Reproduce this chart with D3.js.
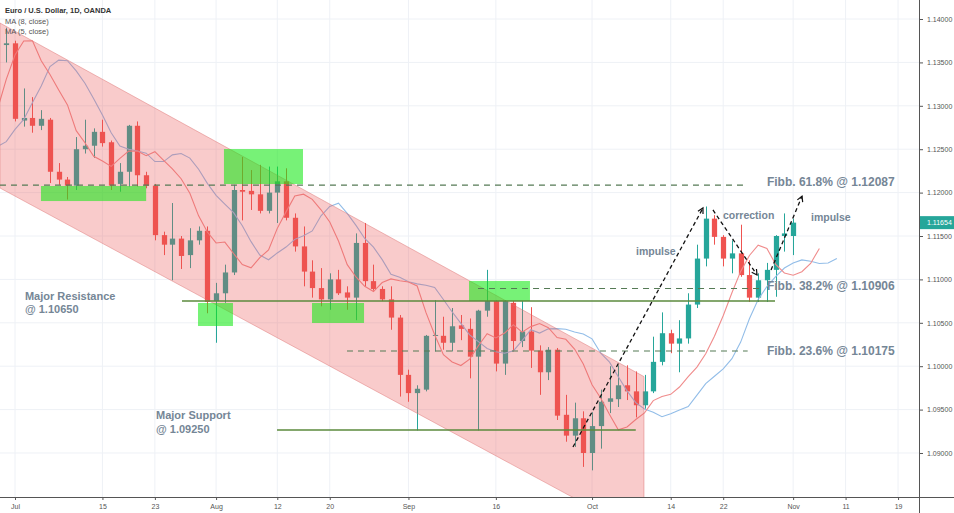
<!DOCTYPE html>
<html><head><meta charset="utf-8">
<script src="https://cdn.jsdelivr.net/npm/d3@7"></script>
<style>body{margin:0;background:#fff;}svg{display:block;}</style>
</head><body>
<svg id="c" width="954" height="513"></svg>
<script>
// ---------------- DATA ----------------
const firstIndex = -1; // bar index of first candle (Jun 28); Jul 1 = 0
const open = [1.1370,1.1372,1.1283,1.1286,1.1277,1.1284,1.1224,1.1215,1.1208,1.1250,
1.1254,1.1270,1.1258,1.1210,1.1224,1.1277,1.1220,1.1208,1.1151,1.1140,
1.1147,1.1128,1.1145,1.1156,1.1075,1.1084,1.1108,1.1203,1.1202,1.1198,
1.1179,1.1200,1.1213,1.1171,1.1138,1.1109,1.1090,1.1077,1.1100,1.1085,
1.1079,1.1142,1.1098,1.1089,1.1077,1.1056,1.0990,1.0969,1.0973,1.1035,
1.1035,1.1027,1.1047,1.1043,1.1011,1.1064,1.1075,1.1003,1.1073,1.1029,
1.1040,1.1018,1.0993,1.1019,1.0944,1.0920,1.0940,1.0900,1.0931,1.0959,
1.0962,1.0978,1.0971,1.0955,1.0971,1.1005,1.1038,1.1026,1.1032,1.1071,
1.1124,1.1170,1.1149,1.1124,1.1130,1.1105,1.1079,1.1099,1.1111,1.1150,1.1150];
const high = [1.1390,1.1375,1.1320,1.1310,1.1295,1.1286,1.1234,1.1218,1.1264,1.1284,
1.1274,1.1284,1.1260,1.1234,1.1278,1.1282,1.1224,1.1210,1.1155,1.1188,
1.1150,1.1159,1.1161,1.1161,1.1096,1.1117,1.1209,1.1241,1.1226,1.1232,
1.1230,1.1230,1.1228,1.1176,1.1161,1.1122,1.1113,1.1107,1.1111,1.1092,
1.1153,1.1165,1.1117,1.1092,1.1092,1.1059,1.0996,1.0978,1.1036,1.1076,
1.1057,1.1067,1.1059,1.1055,1.1065,1.1111,1.1076,1.1076,1.1075,1.1075,
1.1068,1.1024,1.1022,1.1021,1.0967,1.0958,1.0948,1.0947,1.0973,1.1000,
1.1001,1.1001,1.0994,1.0990,1.1034,1.1062,1.1042,1.1053,1.1084,1.1140,
1.1184,1.1174,1.1151,1.1145,1.1163,1.1122,1.1107,1.1119,1.1151,1.1176,1.1170];
const low = [1.1350,1.1282,1.1276,1.1269,1.1272,1.1211,1.1209,1.1192,1.1203,1.1245,
1.1240,1.1253,1.1203,1.1201,1.1207,1.1207,1.1205,1.1145,1.1128,1.1099,
1.1112,1.1113,1.1140,1.1061,1.1027,1.1073,1.1105,1.1168,1.1180,1.1176,
1.1176,1.1165,1.1168,1.1132,1.1092,1.1079,1.1069,1.1065,1.1082,1.1065,
1.1053,1.1092,1.1087,1.1075,1.1042,1.0965,1.0959,1.0926,1.0971,1.1017,
1.1019,1.1017,1.1030,1.0986,1.0926,1.1057,1.0994,1.0990,1.1017,1.1022,
1.0998,1.0967,1.0984,1.0938,1.0913,1.0907,1.0884,1.0880,1.0905,1.0946,
1.0953,1.0961,1.0941,1.0951,1.0969,1.1001,1.1015,1.0993,1.1026,1.1067,
1.1115,1.1140,1.1115,1.1107,1.1103,1.1074,1.1074,1.1074,1.1080,1.1132,1.1128];
const close = [1.1372,1.1285,1.1286,1.1277,1.1285,1.1224,1.1215,1.1208,1.1250,1.1254,
1.1270,1.1257,1.1208,1.1224,1.1277,1.1220,1.1208,1.1151,1.1140,1.1147,
1.1127,1.1145,1.1156,1.1074,1.1084,1.1108,1.1203,1.1201,1.1198,1.1179,
1.1200,1.1213,1.1171,1.1138,1.1109,1.1090,1.1077,1.1100,1.1084,1.1079,
1.1142,1.1098,1.1089,1.1077,1.1056,1.0990,1.0969,1.0974,1.1035,1.1036,
1.1027,1.1046,1.1043,1.1011,1.1064,1.1075,1.1003,1.1075,1.1029,1.1040,
1.1018,1.0993,1.1019,1.0943,1.0920,1.0940,1.0900,1.0931,1.0959,1.0963,
1.0978,1.0971,1.0955,1.0971,1.1005,1.1038,1.1026,1.1032,1.1071,1.1124,
1.1170,1.1149,1.1124,1.1130,1.1105,1.1079,1.1099,1.1111,1.1150,1.1153,1.11654];
// closes of the bars before the visible window (only feed the moving averages)
const priorCloses = [1.1327,1.1287,1.1274,1.1209,1.1219,1.1194,1.1225,1.1291,1.1371,1.1399,1.1366,1.1366,1.1371];

const tickIndex = [0,10,16,23,30,36,45,55,66,75,81,89,95,101];
const tickLabel = ["Jul","15","23","Aug","12","20","Sep","16","Oct","14","22","Nov","11","19"];
const priceTicks = [1.09,1.095,1.10,1.105,1.11,1.115,1.12,1.125,1.13,1.135,1.14];
const lastPrice = 1.11654;
const maSlow = {len:8, shift:5};
const maFast = {len:5, shift:3};

// ---------------- ANNOTATIONS (bar index, price) ----------------
const channelUpper = [[-1.72,1.13954],[71.94,1.09880]];
const channelLower = [[-1.72,1.12053],[71.94,1.08046]];
const greenBoxes = [
  [2.97,15.0,1.12076,1.11903],
  [23.9,32.94,1.12502,1.12099],
  [20.93,24.93,1.10728,1.10463],
  [33.97,39.92,1.10728,1.10498],
  [51.93,58.9,1.10982,1.10751]
];
const solidLevels = [[1.10751,19.1,86.93],[1.09265,29.97,71.0]];
const dashedLevels = [[1.12087,-1.72,83.8],[1.10895,52.96,85.2],[1.10175,37.97,83.8]];
const arrows = [
  [[63.82,1.09069],[78.69,1.11823]],
  [[79.83,1.11800],[84.87,1.11051]],
  [[86.47,1.11108],[90.02,1.11959]]
];
const notes = [
  ["Fibb. 61.8% @ 1.12087",86.0,1.12076,12],
  ["Fibb. 38.2% @ 1.10906",86.0,1.10878,12],
  ["Fibb. 23.6% @ 1.10175",86.0,1.10129,12],
  ["impulse",71.03,1.11281,10.5],
  ["correction",80.98,1.11696,10.5],
  ["impulse",91.04,1.11673,10.5],
  ["Major Resistance",1.14,1.10763,11],
  ["@ 1.10613",1.14,1.10613,11],
  ["Major Support",16.13,1.09386,11],
  ["@ 1.09236",16.13,1.09236,11]
];
notes[7][0] = "@ 1.10650";
notes[9][0] = "@ 1.09250";

// ---------------- DRAW ----------------
const W=954, H=513, plotR=919, plotB=497;
const svg = d3.select("#c");
const x = d3.scaleLinear().domain([-1.7157,103.396]).range([0,plotR]);
const y = d3.scaleLinear().domain([1.08493,1.14219]).range([plotB,0]);
const UP="#26a69a", DOWN="#ef5350";

svg.append("defs").append("clipPath").attr("id","plot")
  .append("rect").attr("x",0).attr("y",0).attr("width",plotR).attr("height",plotB);

// grid
const grid = svg.append("g");
grid.selectAll(".gv").data(tickIndex).join("line")
  .attr("x1",d=>x(d)).attr("x2",d=>x(d)).attr("y1",0).attr("y2",plotB)
  .attr("stroke","#eef1f6").attr("stroke-width",1);
grid.selectAll(".gh").data(priceTicks).join("line")
  .attr("x1",0).attr("x2",plotR).attr("y1",d=>y(d)).attr("y2",d=>y(d))
  .attr("stroke","#eef1f6").attr("stroke-width",1);

const plot = svg.append("g").attr("clip-path","url(#plot)");

// candles
const bars = open.map((o,k)=>({i:firstIndex+k,o,h:high[k],l:low[k],c:close[k]}));
const bw = (x(1)-x(0))*0.6;
const cg = plot.append("g");
cg.selectAll("line").data(bars).join("line")
  .attr("x1",d=>Math.round(x(d.i))+0.5).attr("x2",d=>Math.round(x(d.i))+0.5)
  .attr("y1",d=>y(d.h)).attr("y2",d=>y(d.l))
  .attr("stroke",d=>d.c>=d.o?UP:DOWN).attr("stroke-width",1);
cg.selectAll("rect").data(bars).join("rect")
  .attr("x",d=>Math.round(x(d.i))+0.5-bw/2).attr("width",bw)
  .attr("y",d=>y(Math.max(d.o,d.c)))
  .attr("height",d=>Math.max(1,y(Math.min(d.o,d.c))-y(Math.max(d.o,d.c))))
  .attr("fill",d=>d.c>=d.o?UP:DOWN);

// moving averages (displaced)
const allCloses = priorCloses.concat(close);
const base = firstIndex - priorCloses.length;
function ma(cfg){
  const pts=[];
  for(let k=cfg.len-1;k<allCloses.length;k++){
    const v=d3.mean(allCloses.slice(k-cfg.len+1,k+1));
    pts.push([base+k+cfg.shift,v]);
  }
  return pts;
}
const line = d3.line().x(d=>x(d[0])).y(d=>y(d[1]));
plot.append("path").attr("d",line(ma(maSlow))).attr("fill","none")
  .attr("stroke","#92bde8").attr("stroke-width",1.1);
plot.append("path").attr("d",line(ma(maFast))).attr("fill","none")
  .attr("stroke","#f08c8c").attr("stroke-width",1.1);

// channel
const chan = [channelUpper[0],channelUpper[1],channelLower[1],channelLower[0]];
plot.append("path").attr("d","M"+chan.map(p=>x(p[0])+","+y(p[1])).join("L")+"Z")
  .attr("fill","rgba(236,82,82,0.30)").attr("stroke","rgba(220,110,110,0.45)").attr("stroke-width",1);

// green boxes
plot.selectAll(".gb").data(greenBoxes).join("rect")
  .attr("x",d=>x(d[0])).attr("width",d=>x(d[1])-x(d[0]))
  .attr("y",d=>y(d[2])).attr("height",d=>y(d[3])-y(d[2]))
  .attr("fill","rgba(20,232,20,0.58)");

// levels
plot.selectAll(".sl").data(solidLevels).join("line")
  .attr("x1",d=>x(d[1])).attr("x2",d=>x(d[2])).attr("y1",d=>y(d[0])).attr("y2",d=>y(d[0]))
  .attr("stroke","#5b8a3c").attr("stroke-width",1.5);
plot.selectAll(".dl").data(dashedLevels).join("line")
  .attr("x1",d=>x(d[1])).attr("x2",d=>x(d[2])).attr("y1",d=>y(d[0])).attr("y2",d=>y(d[0]))
  .attr("stroke","#557a55").attr("stroke-width",1.2).attr("stroke-dasharray","6,5");

// arrows
arrows.forEach(a=>{
  const x1=x(a[0][0]),y1=y(a[0][1]),x2=x(a[1][0]),y2=y(a[1][1]);
  plot.append("line").attr("x1",x1).attr("y1",y1).attr("x2",x2).attr("y2",y2)
    .attr("stroke","#111").attr("stroke-width",1.3).attr("stroke-dasharray","4,3");
  const ang=Math.atan2(y2-y1,x2-x1), L=6, sp=0.5;
  plot.append("path")
    .attr("d",`M${x2-L*Math.cos(ang-sp)},${y2-L*Math.sin(ang-sp)}L${x2},${y2}L${x2-L*Math.cos(ang+sp)},${y2-L*Math.sin(ang+sp)}`)
    .attr("fill","none").attr("stroke","#111").attr("stroke-width",1.2);
});

// notes
svg.selectAll(".note").data(notes).join("text")
  .attr("x",d=>x(d[1])).attr("y",d=>y(d[2]))
  .attr("font-family","'Liberation Sans',Arial,sans-serif").attr("font-weight","bold")
  .attr("font-size",d=>d[3]+"px").attr("fill","#758696").text(d=>d[0]);

// axes
const font="'Liberation Sans',Arial,sans-serif";
const yAxis = svg.append("g").attr("transform",`translate(${plotR},0)`)
  .call(d3.axisRight(y).tickValues(priceTicks).tickFormat(d3.format(".5f")).tickSize(4).tickPadding(4));
yAxis.select(".domain").remove();
yAxis.selectAll("line").attr("stroke","#555");
yAxis.selectAll("text").attr("font-family",font).attr("font-size","7px").attr("fill","#555");
svg.append("line").attr("x1",plotR+0.5).attr("x2",plotR+0.5).attr("y1",0).attr("y2",H).attr("stroke","#555");

const xAxis = svg.append("g").attr("transform",`translate(0,${plotB})`)
  .call(d3.axisBottom(x).tickValues(tickIndex).tickFormat((d,k)=>tickLabel[k]).tickSize(3).tickPadding(4));
xAxis.select(".domain").remove();
xAxis.selectAll("line").attr("stroke","#555");
xAxis.selectAll("text").attr("font-family",font).attr("font-size","7px").attr("fill","#555");
svg.append("line").attr("x1",0).attr("x2",W).attr("y1",plotB+0.5).attr("y2",plotB+0.5).attr("stroke","#555");

// last price tag
svg.append("rect").attr("x",plotR+1).attr("y",y(lastPrice)-6.5).attr("width",W-plotR-1).attr("height",13).attr("fill",UP);
svg.append("text").attr("x",plotR+8).attr("y",y(lastPrice)+2.5).attr("font-family",font)
  .attr("font-size","7px").attr("fill","#fff").text(d3.format(".5f")(lastPrice));

// legend
svg.append("text").attr("x",5).attr("y",12.5).attr("font-family",font).attr("font-weight","bold")
  .attr("font-size","7.5px").attr("fill","#333").text("Euro / U.S. Dollar, 1D, OANDA");
svg.append("text").attr("x",5).attr("y",23.5).attr("font-family",font)
  .attr("font-size","7.5px").attr("fill","#555").text("MA (8, close)");
svg.append("text").attr("x",5).attr("y",33.5).attr("font-family",font)
  .attr("font-size","7.5px").attr("fill","#555").text("MA (5, close)");
</script>
</body></html>
